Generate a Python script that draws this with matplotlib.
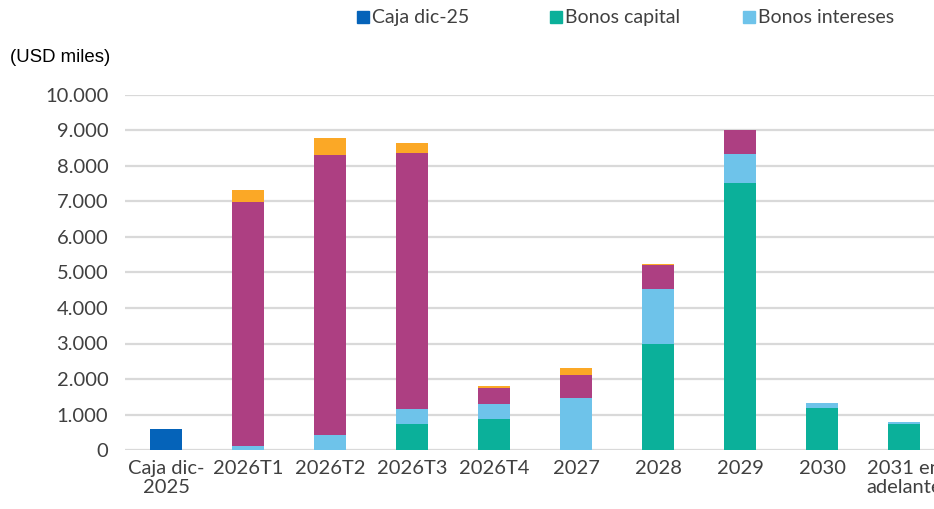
import matplotlib.pyplot as plt
from matplotlib.patches import Rectangle
import numpy as np

categorias = ["Caja dic-\n2025", "2026T1", "2026T2", "2026T3", "2026T4",
              "2027", "2028", "2029", "2030", "2031 en\nadelante"]

caja = [600, 0, 0, 0, 0, 0, 0, 0, 0, 0]
bonos_capital = [0, 0, 0, 740, 880, 0, 2990, 7510, 1190, 740]
bonos_intereses = [0, 120, 412, 412, 404, 1461, 1550, 815, 130, 47]
serie_morada = [0, 6855, 7894, 7228, 449, 665, 665, 675, 0, 0]
serie_naranja = [0, 355, 486, 272, 73, 197, 48, 0, 0, 0]

series = [
    ("Caja dic-25", caja, "#0563b9"),
    ("Bonos capital", bonos_capital, "#0bb09a"),
    ("Bonos intereses", bonos_intereses, "#6ec3ea"),
    (None, serie_morada, "#ad3f82"),
    (None, serie_naranja, "#fba826"),
]

texto = "#404040"

fig = plt.figure(figsize=(9.34, 5.09), dpi=100)
ax = fig.add_axes([125 / 934, 59 / 509, 820 / 934, 355 / 509])

x = np.arange(len(categorias))
base = np.zeros(len(categorias))
for nombre, valores, color in series:
    v = np.array(valores, dtype=float)
    ax.bar(x, v, bottom=base, width=0.4, color=color, linewidth=0, zorder=3)
    base += v

ax.set_xlim(-0.5, len(categorias) - 0.5)
ax.set_ylim(0, 10000)
ax.set_yticks(range(0, 10001, 1000))
ax.set_yticklabels([f"{v:,}".replace(",", ".") for v in range(0, 10001, 1000)],
                   fontfamily="Lato", fontsize=14.5, color=texto)
ax.set_xticks(x)
ax.set_xticklabels(categorias, fontfamily="Lato", fontsize=14.5, color=texto,
                   linespacing=1.15)
ax.tick_params(axis="y", length=0, pad=12)
ax.tick_params(axis="x", length=0, pad=7)
ax.grid(axis="y", color="#d9d9d9", linewidth=1.6, zorder=0)
for s in ax.spines.values():
    s.set_visible(False)

fig.text(10 / 934, 1 - 57 / 509, "(USD miles)", fontfamily="Liberation Sans",
         fontsize=13.4, color="#000000", va="center", ha="left")

# leyenda con columnas de igual ancho
x0 = 357
for i, (nombre, valores, color) in enumerate(series[:3]):
    xs = x0 + i * 193
    fig.patches.append(Rectangle((xs / 934, 1 - 23 / 509), 12 / 934, 12 / 509,
                                 transform=fig.transFigure, color=color))
    fig.text((xs + 15) / 934, 1 - 17.5 / 509, nombre, fontfamily="Lato",
             fontsize=14, color=texto, va="center", ha="left")

fig.savefig("out.png", dpi=100)
